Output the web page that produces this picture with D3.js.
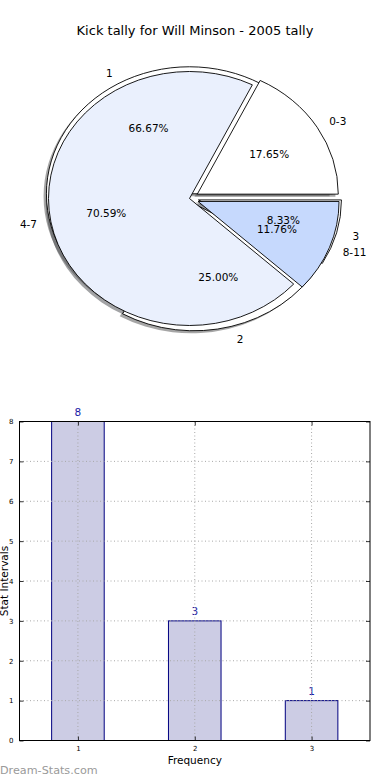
<!DOCTYPE html>
<html>
<head>
<meta charset="utf-8">
<script src="https://cdn.jsdelivr.net/npm/d3@7/dist/d3.min.js"></script>
<style>
  body { margin: 0; background: #fff; }
  svg { display: block; font-family: "DejaVu Sans", sans-serif; }
</style>
</head>
<body>
<svg id="chart" width="390" height="780"></svg>
<script>
var chartTitle = "Kick tally for Will Minson - 2005 tally";

// pie drawn underneath (frequency of each tally)
var tallyLabels = ["1", "2", "3"];
var tallyValues = [8, 3, 1];

// pie drawn on top (kick ranges)
var rangeLabels = ["0-3", "4-7", "8-11"];
var rangeValues = [3, 12, 2];

// bar chart
var barCategories = [1, 2, 3];
var barValues = [8, 3, 1];
var yTicks = [0, 1, 2, 3, 4, 5, 6, 7, 8];

var svg = d3.select("#chart");

svg.append("text")
  .attr("x", 195).attr("y", 30)
  .attr("text-anchor", "middle").attr("dominant-baseline", "central")
  .style("font-size", "13px").attr("fill", "#000")
  .text(chartTitle);

/*------------------------------------------------------------*/
/*  PIES   */
var tallyPie = {cx: 192.5, cy: 198.5, rx: 143, ry: 127, explode: [0.043, 0.043, 0.043],
                colors: ["#ffffff", "#ffffff", "#ffffff"]};
var rangePie = {cx: 189.5, cy: 198.5, rx: 141, ry: 127, explode: [0.065, 0, 0.065],
                colors: ["#ffffff", "#eaf0fd", "#c6d9fd"]};

function layoutPie(values, opt) {
  var pie = d3.pie().sort(null).value(function(d) { return d; })
    .startAngle(Math.PI / 2).endAngle(Math.PI / 2 - 2 * Math.PI);
  var arcs = pie(values);
  arcs.forEach(function(a, i) {
    a.mid = (a.startAngle + a.endAngle) / 2;
    a.cx = opt.cx + opt.explode[i] * opt.rx * Math.sin(a.mid);
    a.cy = opt.cy - opt.explode[i] * opt.ry * Math.cos(a.mid);
    a.fill = opt.colors[i];
  });
  return arcs;
}

var tallyArcs = layoutPie(tallyValues, tallyPie);
var rangeArcs = layoutPie(rangeValues, rangePie);

var shadowGroup = svg.append("g").attr("class", "shadows");
var wedgeGroup = svg.append("g").attr("class", "wedges");
var pieLabelGroup = svg.append("g").attr("class", "pie-labels");

function drawWedges(arcs, opt, isShadow) {
  var arc = d3.arc().innerRadius(0).outerRadius(opt.rx);
  var k = opt.ry / opt.rx;
  var parent = isShadow ? shadowGroup : wedgeGroup;
  parent.append("g").selectAll("path").data(arcs).enter().append("path")
    .attr("transform", function(d) {
      var sx = isShadow ? -0.02 * opt.rx : 0, sy = isShadow ? 0.02 * opt.ry : 0;
      return "translate(" + (d.cx + sx) + "," + (d.cy + sy) + ") scale(1," + k + ")";
    })
    .attr("d", arc)
    .attr("fill", function(d) {
      if (!isShadow) return d.fill;
      var c = d3.rgb(d.fill);
      return d3.rgb(c.r * 0.3, c.g * 0.3, c.b * 0.3);
    })
    .attr("fill-opacity", isShadow ? 0.5 : 1)
    .attr("stroke", isShadow ? "none" : "#000")
    .attr("stroke-width", 0.9)
    .attr("vector-effect", "non-scaling-stroke");
}

function drawPieLabels(arcs, labels, opt, nudge) {
  var fmt = d3.format(".2f");
  var total = d3.sum(arcs, function(d) { return d.value; });
  pieLabelGroup.append("g").selectAll("text.lab").data(arcs).enter().append("text")
    .attr("x", function(d) { return d.cx + 1.1 * opt.rx * Math.sin(d.mid) + nudge; })
    .attr("y", function(d) { return d.cy - 1.1 * opt.ry * Math.cos(d.mid); })
    .attr("text-anchor", function(d) { return Math.sin(d.mid) > 0 ? "start" : "end"; })
    .attr("dominant-baseline", "central")
    .style("font-size", "10.5px")
    .text(function(d, i) { return labels[i]; });
  pieLabelGroup.append("g").selectAll("text.pct").data(arcs).enter().append("text")
    .attr("x", function(d) { return d.cx + 0.6 * opt.rx * Math.sin(d.mid) + nudge; })
    .attr("y", function(d) { return d.cy - 0.6 * opt.ry * Math.cos(d.mid); })
    .attr("text-anchor", "middle")
    .attr("dominant-baseline", "central")
    .style("font-size", "10.5px")
    .text(function(d) { return fmt(d.value / total * 100) + "%"; });
}

drawWedges(tallyArcs, tallyPie, true);
drawWedges(rangeArcs, rangePie, true);
drawWedges(tallyArcs, tallyPie, false);
drawWedges(rangeArcs, rangePie, false);
drawPieLabels(tallyArcs, tallyLabels, tallyPie, 2);
drawPieLabels(rangeArcs, rangeLabels, rangePie, 0);

/*------------------------------------------------------------*/
/*  BAR CHART   */
var plot = {left: 19.5, right: 370, top: 421.5, bottom: 740.5};
var barWidth = 0.45;

var x = d3.scaleLinear().domain([0.5, 3.5]).range([plot.left, plot.right]);
var y = d3.scaleLinear().domain([0, 8]).range([plot.bottom, plot.top]);

var barGroup = svg.append("g").attr("class", "bars");
barGroup.selectAll("rect").data(barValues).enter().append("rect")
  .attr("x", function(d, i) { return x(barCategories[i] - barWidth / 2); })
  .attr("y", function(d) { return y(d); })
  .attr("width", function(d, i) { return x(barCategories[i] + barWidth / 2) - x(barCategories[i] - barWidth / 2); })
  .attr("height", function(d) { return y(0) - y(d); })
  .attr("fill", "#ccccE4")
  .attr("stroke", "#000080")
  .attr("stroke-width", 1);

// dotted grid on top of bars
var grid = svg.append("g").attr("class", "grid")
  .attr("stroke", "#a8a8a8").attr("stroke-width", 1).attr("stroke-dasharray", "1,2.5");
grid.selectAll("line.h").data(yTicks.slice(1, -1)).enter().append("line")
  .attr("x1", plot.left).attr("x2", plot.right)
  .attr("y1", function(d) { return y(d); }).attr("y2", function(d) { return y(d); });
grid.selectAll("line.v").data(barCategories).enter().append("line")
  .attr("y1", plot.top).attr("y2", plot.bottom)
  .attr("x1", function(d) { return x(d); }).attr("x2", function(d) { return x(d); });

// axes (ticks inside, on all four sides)
var yLeft = d3.axisLeft(y).tickValues(yTicks).tickFormat(d3.format("d")).tickSizeInner(-4).tickSizeOuter(0).tickPadding(6);
var yRight = d3.axisRight(y).tickValues(yTicks).tickSizeInner(-4).tickSizeOuter(0).tickFormat("");
var xBottom = d3.axisBottom(x).tickValues(barCategories).tickFormat(d3.format("d")).tickSizeInner(-4).tickSizeOuter(0).tickPadding(6);
var xTop = d3.axisTop(x).tickValues(barCategories).tickSizeInner(-4).tickSizeOuter(0).tickFormat("");

function styleAxis(g) {
  g.select(".domain").remove();
  g.selectAll("line").attr("stroke", "#000").attr("stroke-width", 0.8);
  g.selectAll("text").style("font-size", "7px").style("font-family", "DejaVu Sans").attr("fill", "#000");
}
svg.append("g").attr("transform", "translate(" + plot.left + ",0)").call(yLeft).call(styleAxis);
svg.append("g").attr("transform", "translate(" + plot.right + ",0)").call(yRight).call(styleAxis);
svg.append("g").attr("transform", "translate(0," + plot.bottom + ")").call(xBottom).call(styleAxis);
svg.append("g").attr("transform", "translate(0," + plot.top + ")").call(xTop).call(styleAxis);

svg.append("rect")
  .attr("x", plot.left).attr("y", plot.top)
  .attr("width", plot.right - plot.left).attr("height", plot.bottom - plot.top)
  .attr("fill", "none").attr("stroke", "#000").attr("stroke-width", 1);

// value labels
barGroup.selectAll("text").data(barValues).enter().append("text")
  .attr("x", function(d, i) { return x(barCategories[i]); })
  .attr("y", function(d) { return y(d) - 9.5; })
  .attr("text-anchor", "middle").attr("dominant-baseline", "central")
  .style("font-size", "10.5px").attr("fill", "#1a1aa6")
  .text(function(d) { return d; });

svg.append("text")
  .attr("transform", "translate(4," + ((plot.top + plot.bottom) / 2) + ") rotate(-90)")
  .attr("text-anchor", "middle").attr("dominant-baseline", "central")
  .style("font-size", "10.5px")
  .text("Stat Intervals");

svg.append("text")
  .attr("x", (plot.left + plot.right) / 2).attr("y", 760)
  .attr("text-anchor", "middle").attr("dominant-baseline", "central")
  .style("font-size", "10.5px")
  .text("Frequency");

svg.append("text")
  .attr("x", 0).attr("y", 770)
  .attr("dominant-baseline", "central")
  .style("font-size", "11.2px").attr("fill", "#9a9a9a")
  .text("Dream-Stats.com");
</script>
</body>
</html>
